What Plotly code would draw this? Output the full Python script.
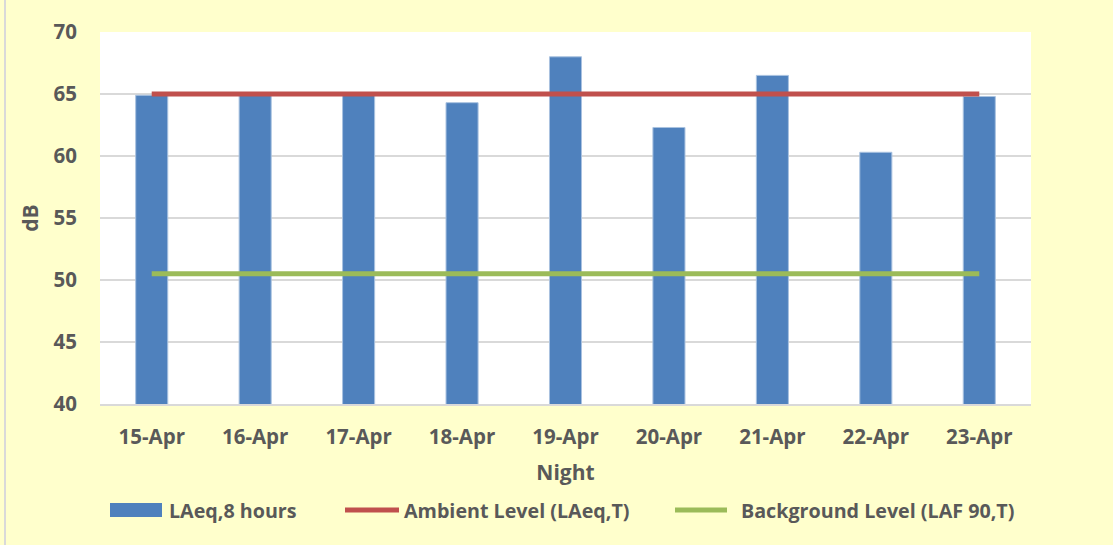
import plotly.graph_objects as go

# Nightly noise survey data
nights = ["15-Apr", "16-Apr", "17-Apr", "18-Apr", "19-Apr", "20-Apr", "21-Apr", "22-Apr", "23-Apr"]
laeq_8h = [64.9, 65.0, 65.0, 64.3, 68.0, 62.3, 66.5, 60.3, 64.8]
ambient_level = [65.0] * len(nights)
background_level = [50.5] * len(nights)

y_ticks = [40, 45, 50, 55, 60, 65, 70]

series_names = ["LAeq,8 hours", "Ambient Level (LAeq,T)", "Background Level (LAF 90,T)"]

TEXT = "#595959"
FONT = "Open Sans"
BLUE = "#4F81BD"
RED = "#C0504D"
GREEN = "#9BBB59"
GRID = "#D9D9D9"

# plot area in pixels (used to place the legend row below the axes)
L, R, T, B = 100, 1031, 32, 404
W_PLOT, H_PLOT = R - L, B - T


def px_x(p):
    return (p - L) / W_PLOT


def px_y(p):
    return (B - p) / H_PLOT


fig = go.Figure()

fig.add_trace(go.Bar(
    x=nights, y=laeq_8h, name=series_names[0],
    marker=dict(color=BLUE, line=dict(color="#A9C2E0", width=1)),
    width=0.31,
))
fig.add_trace(go.Scatter(
    x=nights, y=ambient_level, mode="lines", name=series_names[1],
    line=dict(color=RED, width=5),
))
fig.add_trace(go.Scatter(
    x=nights, y=background_level, mode="lines", name=series_names[2],
    line=dict(color=GREEN, width=5),
))

# legend row: swatch (x0, x1) and label start, in pixels
legend_items = [
    (BLUE, "rect", 110, 162, 167),
    (RED, "line", 345, 399, 402),
    (GREEN, "line", 675, 727, 739),
]
legend_y = 510

shapes = [dict(
    type="line", xref="paper", yref="paper",
    x0=px_x(5), x1=px_x(5), y0=px_y(545), y1=px_y(0),
    line=dict(color=GRID, width=2),
)]
annotations = []
for (color, kind, x0, x1, xt), name in zip(legend_items, series_names):
    if kind == "rect":
        shapes.append(dict(
            type="rect", xref="paper", yref="paper",
            x0=px_x(x0), x1=px_x(x1), y0=px_y(legend_y + 7), y1=px_y(legend_y - 7),
            fillcolor=color, line=dict(width=0),
        ))
    else:
        shapes.append(dict(
            type="line", xref="paper", yref="paper",
            x0=px_x(x0), x1=px_x(x1), y0=px_y(legend_y), y1=px_y(legend_y),
            line=dict(color=color, width=5),
        ))
    annotations.append(dict(
        xref="paper", yref="paper", x=px_x(xt), y=px_y(legend_y),
        xanchor="left", yanchor="middle", text=name, showarrow=False,
        font=dict(family=FONT, size=19.7, color=TEXT, weight="bold"),
    ))

fig.update_layout(
    width=1113, height=545,
    margin=dict(l=L, r=1113 - R, t=T, b=545 - B),
    paper_bgcolor="#FFFFCC",
    plot_bgcolor="#FFFFFF",
    font=dict(family=FONT, size=20, color=TEXT),
    showlegend=False,
    shapes=shapes,
    annotations=annotations,
)

fig.update_xaxes(
    type="category",
    showgrid=False, showline=True, linecolor=GRID, linewidth=2,
    ticks="", ticklabelstandoff=13,
    tickfont=dict(family=FONT, size=20.5, color=TEXT, weight="bold"),
    title=dict(text="Night", standoff=17,
               font=dict(family=FONT, size=21, color=TEXT, weight="bold")),
)
fig.update_yaxes(
    range=[40, 70], tickvals=y_ticks,
    showgrid=True, gridcolor=GRID, gridwidth=2,
    zeroline=False, showline=False, ticks="", ticklabelstandoff=22,
    tickfont=dict(family=FONT, size=20.5, color=TEXT, weight="bold"),
    title=dict(text="dB", standoff=9,
               font=dict(family=FONT, size=21, color=TEXT, weight="bold")),
)

fig.write_html("out.html")
